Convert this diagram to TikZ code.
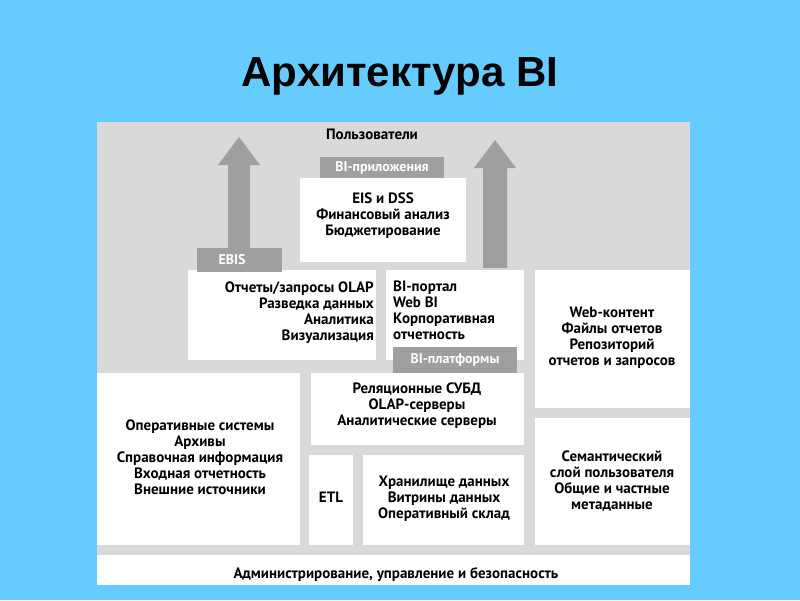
\documentclass[tikz,border=0pt]{standalone}
\usepackage{fontspec}
\setmainfont{PT Sans}
\newfontfamily\titlefont{Liberation Sans}
\begin{document}
\begin{tikzpicture}[x=1pt,y=-1pt,
  wbox/.style={fill=white,draw=none},
  glabel/.style={fill=gray!75,text=white,font=\bfseries\fontsize{14}{15}\selectfont,inner sep=0pt},
  txt/.style={font=\bfseries\fontsize{15}{16}\selectfont,inner sep=0pt},
  uparrow/.style={fill=gray!75,draw=none}]
\useasboundingbox (0,0) rectangle (800,600);
\fill[fill={rgb,255:red,102;green,204;blue,255}] (0,0) rectangle (800,600);
\node[font=\titlefont\bfseries\fontsize{42}{44}\selectfont] (title) at (400,76) {Архитектура BI};
\fill[gray!30] (97,122) rectangle (690,585);
\node[txt] (users) at (372,134) {Пользователи};
% arrows
\fill[uparrow] (228,248) -- (228,165) -- (218,165) -- (239,137) -- (260,165) -- (250,165) -- (250,248) -- cycle;
\fill[uparrow] (483,268) -- (483,168) -- (474,168) -- (495,140) -- (516,168) -- (507,168) -- (507,268) -- cycle;
% BI apps
\fill[wbox] (300,178) rectangle (466,262);
\fill[gray!75] (320,157) rectangle (444,178);
\node[glabel] (biapp) at (382,168) {BI-приложения};
\node[txt,align=center] (eis) at (383,216) {EIS и DSS\\Финансовый анализ\\Бюджетирование};
% row 2
\fill[wbox] (188,270) rectangle (376,360);
\fill[gray!75] (197,248) rectangle (282,272);
\node[glabel] (ebis) at (232,260) {EBIS};
\node[txt,align=right,anchor=east] (olap) at (374,313) {Отчеты/запросы OLAP\\Разведка данных\\Аналитика\\Визуализация};
\fill[wbox] (386,270) rectangle (524,360);
\node[txt,align=left,anchor=west] (portal) at (393,310) {BI-портал\\Web BI\\Корпоративная\\отчетность};
\fill[gray!75] (393,347) rectangle (517,373);
\node[glabel] (biplat) at (455,360) {BI-платформы};
\fill[wbox] (535,270) rectangle (690,408);
\node[txt,align=center] (web) at (612,338) {Web-контент\\Файлы отчетов\\Репозиторий\\отчетов и запросов};
% lower
\fill[wbox] (97,373) rectangle (300,545);
\node[txt,align=center] (oper) at (200,457) {Оперативные системы\\Архивы\\Справочная информация\\Входная отчетность\\Внешние источники};
\fill[wbox] (311,373) rectangle (524,445);
\node[txt,align=center] (rel) at (417,406) {Реляционные СУБД\\OLAP-серверы\\Аналитические серверы};
\fill[wbox] (309,455) rectangle (353,545);
\node[txt] (etl) at (331,497) {ETL};
\fill[wbox] (363,455) rectangle (524,545);
\node[txt,align=center] (dw) at (444,499) {Хранилище данных\\Витрины данных\\Оперативный склад};
\fill[wbox] (535,418) rectangle (690,545);
\node[txt,align=center] (sem) at (612,481) {Семантический\\слой пользователя\\Общие и частные\\метаданные};
\fill[wbox] (97,555) rectangle (690,585);
\node[txt] (adm) at (396,575) {Администрирование, управление и безопасность};
\end{tikzpicture}
\end{document}
